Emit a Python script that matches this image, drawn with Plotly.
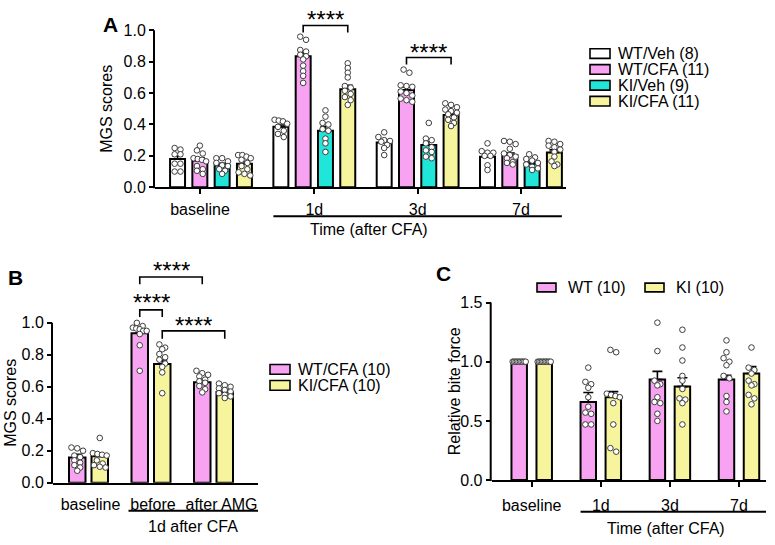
import plotly.graph_objects as go

W, H = 775, 545
FONT = "Arial, 'Liberation Sans', sans-serif"

# ---------------- Panel A data ----------------
A_groups = ["baseline", "1d", "3d", "7d"]
A_series = ["WT/Veh (8)", "WT/CFA (11)", "KI/Veh (9)", "KI/CFA (11)"]
A_colors = ["#FFFFFF", "#F7A3F2", "#1FE6D9", "#F6F59E"]
A_means = [
    [0.18, 0.385, 0.285, 0.195],
    [0.17, 0.835, 0.62, 0.205],
    [0.14, 0.36, 0.27, 0.15],
    [0.15, 0.625, 0.46, 0.222],
]
A_sem = [
    [0.018, 0.012, 0.013, 0.018],
    [0.017, 0.022, 0.020, 0.013],
    [0.012, 0.027, 0.022, 0.010],
    [0.014, 0.025, 0.014, 0.016],
]
A_dots = [
    [[0.25, 0.24, 0.21, 0.21, 0.15, 0.15, 0.10, 0.10],
     [0.43, 0.425, 0.42, 0.405, 0.385, 0.36, 0.34, 0.32],
     [0.35, 0.32, 0.30, 0.295, 0.29, 0.27, 0.25, 0.205],
     [0.28, 0.23, 0.22, 0.22, 0.20, 0.20, 0.14, 0.11]],
    [[0.265, 0.235, 0.215, 0.185, 0.18, 0.175, 0.165, 0.135, 0.115, 0.105, 0.085],
     [0.96, 0.94, 0.875, 0.865, 0.845, 0.835, 0.815, 0.775, 0.74, 0.71, 0.665],
     [0.75, 0.73, 0.65, 0.645, 0.64, 0.61, 0.60, 0.585, 0.565, 0.555, 0.545],
     [0.295, 0.29, 0.275, 0.245, 0.215, 0.205, 0.195, 0.185, 0.16, 0.155, 0.145]],
    [[0.185, 0.185, 0.165, 0.155, 0.14, 0.135, 0.115, 0.105, 0.085],
     [0.49, 0.45, 0.41, 0.40, 0.37, 0.36, 0.31, 0.28, 0.225],
     [0.41, 0.31, 0.30, 0.28, 0.255, 0.235, 0.225, 0.195, 0.185],
     [0.21, 0.19, 0.18, 0.17, 0.155, 0.145, 0.13, 0.12, 0.11]],
    [[0.205, 0.205, 0.195, 0.185, 0.175, 0.155, 0.135, 0.115, 0.095, 0.085, 0.075],
     [0.79, 0.76, 0.73, 0.70, 0.645, 0.635, 0.615, 0.595, 0.575, 0.555, 0.525],
     [0.535, 0.525, 0.51, 0.495, 0.485, 0.475, 0.465, 0.445, 0.43, 0.41, 0.39],
     [0.295, 0.29, 0.275, 0.265, 0.255, 0.24, 0.225, 0.195, 0.165, 0.145, 0.135]],
]
A_yticks = [0.0, 0.2, 0.4, 0.6, 0.8, 1.0]
A_ytitle = "MGS scores"
A_xtitle = "Time (after CFA)"
# comparisons: (group index, series a, series b)
A_comps = [(1, 1, 3), (2, 1, 3)]
A_comp_text = ["****", "****"]

# ---------------- Panel B data ----------------
B_groups = ["baseline", "before", "after AMG"]
B_series = ["WT/CFA (10)", "KI/CFA (10)"]
B_colors = ["#F7A3F2", "#F6F59E"]
B_means = [
    [0.158, 0.935, 0.628],
    [0.165, 0.743, 0.568],
]
B_sem = [
    [0.020, 0.024, 0.016],
    [0.013, 0.025, 0.012],
]
B_dots = [
    [[0.22, 0.215, 0.20, 0.17, 0.16, 0.14, 0.125, 0.11, 0.095, 0.075],
     [1.0, 0.98, 0.97, 0.965, 0.96, 0.95, 0.95, 0.93, 0.86, 0.70],
     [0.70, 0.685, 0.675, 0.665, 0.645, 0.635, 0.625, 0.605, 0.585, 0.565]],
    [[0.28, 0.185, 0.18, 0.175, 0.17, 0.14, 0.12, 0.11, 0.10, 0.095],
     [0.865, 0.845, 0.835, 0.805, 0.785, 0.77, 0.745, 0.725, 0.69, 0.56],
     [0.62, 0.61, 0.60, 0.59, 0.58, 0.57, 0.56, 0.55, 0.54, 0.53]],
]
B_yticks = [0.0, 0.2, 0.4, 0.6, 0.8, 1.0]
B_ytitle = "MGS scores"
B_xtitle = "1d after CFA"
# comparisons: ((group, series), (group, series))
B_comps = [((1, 0), (2, 0)), ((1, 0), (1, 1)), ((1, 1), (2, 1))]
B_comp_text = ["****", "****", "****"]

# ---------------- Panel C data ----------------
C_groups = ["baseline", "1d", "3d", "7d"]
C_series = ["WT (10)", "KI (10)"]
C_colors = ["#F7A3F2", "#F6F59E"]
C_means = [
    [1.0, 0.66, 0.85, 0.85],
    [1.0, 0.70, 0.79, 0.90],
]
C_sem = [
    [0.0, 0.080, 0.068, 0.035],
    [0.0, 0.047, 0.074, 0.060],
]
C_dots = [
    [[1.0, 1.0, 1.0, 1.0, 1.0, 1.0, 1.0, 1.0, 1.0, 1.0],
     [0.95, 0.83, 0.81, 0.78, 0.70, 0.62, 0.57, 0.56, 0.47, 0.47],
     [1.33, 1.09, 0.84, 0.81, 0.80, 0.70, 0.66, 0.65, 0.56, 0.50],
     [1.18, 1.08, 1.03, 1.00, 0.97, 0.88, 0.86, 0.71, 0.66, 0.58]],
    [[1.0, 1.0, 1.0, 1.0, 1.0, 1.0, 1.0, 1.0, 1.0, 1.0],
     [1.10, 1.08, 0.73, 0.72, 0.71, 0.70, 0.65, 0.47, 0.27, 0.24],
     [1.27, 1.12, 1.01, 0.88, 0.84, 0.77, 0.69, 0.68, 0.65, 0.47],
     [1.12, 0.95, 0.93, 0.90, 0.84, 0.81, 0.80, 0.72, 0.69, 0.64]],
]
C_yticks = [0.0, 0.5, 1.0, 1.5]
C_ytitle = "Relative bite force"
C_xtitle = "Time (after CFA)"

# ---------------- Layout geometry (pixels) ----------------
P = {
    "A": dict(ax="", x0=155, x1=566, ytop=15, ybot=185, xr=(-0.542, 3.436), yr=(0, 1.05),
              slot=0.2158, bw=0.145, label=(110, 17), tick_dx=[-11, 0, 0, 0], standoff=2),
    "B": dict(ax="2", x0=53, x1=258, ytop=275.5, ybot=490, xr=(-0.568, 2.712), yr=(0, 1.30),
              slot=0.36, bw=0.264, label=(15, 278), tick_dx=[2, 2, 8], standoff=1),
    "C": dict(ax="3", x0=491.7, x1=766, ytop=304, ybot=487.3, xr=(-0.579, 3.391), yr=(0, 1.5),
              slot=0.362, bw=0.224, label=(443, 274), tick_dx=[0, 0, 0, 0], standoff=5),
}
for p in P.values():
    p["ppux"] = (p["x1"] - p["x0"]) / (p["xr"][1] - p["xr"][0])
    p["ppuy"] = (p["ybot"] - p["ytop"]) / (p["yr"][1] - p["yr"][0])


def xpx(p, v):
    return p["x0"] + (v - p["xr"][0]) * p["ppux"]


def ypx(p, v):
    return p["ybot"] - (v - p["yr"][0]) * p["ppuy"]


def px2paper(x, y):
    return x / W, 1 - y / H


def bar_x(p, g, s, ns):
    return g + (s - (ns - 1) / 2) * p["slot"]


DOT_D = 5.8  # px


def swarm(vals, p, maxhalf):
    """Prism-like horizontal spreading of points with similar values (px -> data units)."""
    order = sorted(range(len(vals)), key=lambda i: -vals[i])
    clusters = []
    for i in order:
        y = vals[i] * p["ppuy"]
        if clusters and abs(clusters[-1][0] - y) < DOT_D * 0.75:
            clusters[-1][1].append(i)
        else:
            clusters.append([y, [i]])
    offs = [0.0] * len(vals)
    for _, idx in clusters:
        k = len(idx)
        step = DOT_D
        if k > 1 and (k - 1) / 2 * step > maxhalf:
            step = 2 * maxhalf / (k - 1)
        for j, i in enumerate(idx):
            offs[i] = (j - (k - 1) / 2) * step / p["ppux"]
    return offs


fig = go.Figure()
shapes = []
annotations = []
AXC = "black"


def add_panel(key, groups, series, colors, means, sems, dots):
    p = P[key]
    ns = len(series)
    xa, ya = "x" + p["ax"], "y" + p["ax"]
    for s in range(ns):
        xs = [bar_x(p, g, s, ns) for g in range(len(groups))]
        fig.add_trace(go.Bar(
            x=xs, y=means[s], width=p["bw"], xaxis=xa, yaxis=ya, name=series[s],
            marker=dict(color=colors[s], line=dict(color="black", width=2)),
            error_y=dict(type="data", array=sems[s], arrayminus=[0] * len(sems[s]),
                         symmetric=False, color="black", thickness=1.6, width=5),
            showlegend=False, hoverinfo="skip"))
    for s in range(ns):
        dx, dy = [], []
        for g in range(len(groups)):
            vals = dots[s][g]
            offs = swarm(vals, p, maxhalf=p["bw"] * p["ppux"] * 0.42)
            bx = bar_x(p, g, s, ns)
            dx += [bx + o for o in offs]
            dy += vals
        fig.add_trace(go.Scatter(
            x=dx, y=dy, xaxis=xa, yaxis=ya, mode="markers", cliponaxis=False,
            marker=dict(size=5.6, color="white", line=dict(color="#3d3d3d", width=1)),
            showlegend=False, hoverinfo="skip"))


add_panel("A", A_groups, A_series, A_colors, A_means, A_sem, A_dots)
add_panel("B", B_groups, B_series, B_colors, B_means, B_sem, B_dots)
add_panel("C", C_groups, C_series, C_colors, C_means, C_sem, C_dots)

FS = 16
TICKF = dict(family=FONT, size=FS, color="black")


def axis_layout(key, groups, yticks, xticks_visible):
    p = P[key]
    xd = [p["x0"] / W, p["x1"] / W]
    yd = [1 - p["ybot"] / H, 1 - p["ytop"] / H]
    tv = [g + d / p["ppux"] for g, d in zip(range(len(groups)), p["tick_dx"])]
    xax = dict(domain=xd, range=list(p["xr"]), tickmode="array",
               tickvals=tv, ticktext=groups,
               showline=True, linecolor=AXC, linewidth=2, ticks="outside", ticklen=5,
               tickwidth=2, tickcolor=AXC if xticks_visible else "rgba(0,0,0,0)",
               ticklabelstandoff=p["standoff"],
               showgrid=False, zeroline=False, tickfont=TICKF, fixedrange=True,
               anchor="y" + p["ax"])
    yax = dict(domain=yd, range=list(p["yr"]), tickmode="array", tickvals=yticks,
               ticktext=[f"{v:.1f}" for v in yticks],
               showline=False, ticks="outside", ticklen=5, tickwidth=2, tickcolor=AXC,
               showgrid=False, zeroline=False, tickfont=TICKF, fixedrange=True,
               anchor="x" + p["ax"])
    # y axis line stops at the top tick
    lx = p["x0"] - 1
    x0p, y0p = px2paper(lx, ypx(p, yticks[0]) + 1)
    _, y1p = px2paper(lx, ypx(p, yticks[-1]))
    shapes.append(dict(type="line", xref="paper", yref="paper", x0=x0p, x1=x0p,
                       y0=y0p, y1=y1p, line=dict(color=AXC, width=2)))
    return xax, yax


xA, yA = axis_layout("A", A_groups, A_yticks, True)
xB, yB = axis_layout("B", B_groups, B_yticks, False)
xC, yC = axis_layout("C", C_groups, C_yticks, True)


def text_px(x, y, text, size=FS, bold=False, angle=0, xanchor="center", yshift=0):
    xp, yp = px2paper(x, y)
    annotations.append(dict(x=xp, y=yp, xref="paper", yref="paper", text=f"<b>{text}</b>" if bold else text,
                            showarrow=False, xanchor=xanchor, yanchor="middle", textangle=angle,
                            yshift=yshift, font=dict(family=FONT, size=size, color="black")))


def line_px(x0, y0, x1, y1, width=2):
    a = px2paper(x0, y0)
    b = px2paper(x1, y1)
    shapes.append(dict(type="line", xref="paper", yref="paper", x0=a[0], y0=a[1], x1=b[0], y1=b[1],
                       line=dict(color="black", width=width)))


def rect_px(x0, y0, x1, y1, color):
    a = px2paper(x0, y0)
    b = px2paper(x1, y1)
    shapes.append(dict(type="rect", xref="paper", yref="paper", x0=a[0], y0=a[1], x1=b[0], y1=b[1],
                       fillcolor=color, line=dict(color="black", width=1.6)))


def bracket(key, xa_, xb_, yh, leg, ytext, text):
    p = P[key]
    x_ref, y_ref = "x" + p["ax"], "y" + p["ax"]
    path = f"M {xa_},{yh - leg} L {xa_},{yh} L {xb_},{yh} L {xb_},{yh - leg}"
    shapes.append(dict(type="path", path=path, xref=x_ref, yref=y_ref,
                       line=dict(color="black", width=1.6)))
    text_px(xpx(p, (xa_ + xb_) / 2), ypx(p, ytext), text, size=24, yshift=-6)


# ---- Panel A decorations
pA = P["A"]
text_px(*pA["label"], "A", size=21, bold=True)
text_px(107, ypx(pA, 0.5), A_ytitle, angle=-90)
ulA0 = xpx(pA, bar_x(pA, 1, 0, 4) - pA["bw"] / 2)
ulA1 = xpx(pA, bar_x(pA, 3, 3, 4) + pA["bw"] / 2)
line_px(ulA0, 215, ulA1, 215)
text_px(369, 229, A_xtitle)
A_br = [(1.031, 0.044, 1.105), (0.827, 0.044, 0.90)]
for (g, sa, sb), (yh, lg, yt), t in zip(A_comps, A_br, A_comp_text):
    bracket("A", bar_x(pA, g, sa, 4), bar_x(pA, g, sb, 4), yh, lg, yt, t)
for i, (name, col) in enumerate(zip(A_series, A_colors)):
    yc = 47 + 16.4 * i
    rect_px(590, yc - 5, 610, yc + 5, col)
    text_px(616, yc, name, xanchor="left")

# ---- Panel B decorations
pB = P["B"]
text_px(*pB["label"], "B", size=21, bold=True)
text_px(11, ypx(pB, 0.5), B_ytitle, angle=-90)
ulB0 = xpx(pB, bar_x(pB, 1, 0, 2) - pB["bw"] / 2) - 3
ulB1 = pB["x1"]
line_px(ulB0, 519, ulB1, 519)
text_px((ulB0 + ulB1) / 2, 535, B_xtitle)
B_br = [(1.287, 0.045, 1.364), (1.081, 0.045, 1.162), (0.95, 0.05, 1.02)]
for ((ga, sa), (gb, sb)), (yh, lg, yt), t in zip(B_comps, B_br, B_comp_text):
    bracket("B", bar_x(pB, ga, sa, 2), bar_x(pB, gb, sb, 2), yh, lg, yt, t)
for i, (name, col) in enumerate(zip(B_series, B_colors)):
    yc = 373 + 16.5 * i
    rect_px(270, yc - 5, 290, yc + 5, col)
    text_px(296, yc, name, xanchor="left")

# ---- Panel C decorations
pC = P["C"]
text_px(*pC["label"], "C", size=21, bold=True)
text_px(454, ypx(pC, 0.75), C_ytitle, angle=-90)
ulC0 = xpx(pC, bar_x(pC, 1, 0, 2) - pC["bw"] / 2)
ulC1 = pC["x1"]
line_px(ulC0, 520, ulC1, 520)
text_px(666, 537, C_xtitle)
for i, (name, col) in enumerate(zip(C_series, C_colors)):
    lx = 537 + 108 * i
    rect_px(lx, 284, lx + 19, 293, col)
    text_px(lx + 29, 288.5, name, xanchor="left")

fig.update_layout(
    width=W, height=H, autosize=False,
    margin=dict(l=0, r=0, t=0, b=0),
    paper_bgcolor="white", plot_bgcolor="white",
    barmode="overlay",
    xaxis=xA, yaxis=yA, xaxis2=xB, yaxis2=yB, xaxis3=xC, yaxis3=yC,
    shapes=shapes, annotations=annotations,
    font=dict(family=FONT, size=FS, color="black"),
    showlegend=False,
)

# pin the figure to the window's top-left corner so the page does not overflow
PIN = ("var gd=document.getElementById('{plot_id}');"
       "document.documentElement.style.margin='0';document.body.style.margin='0';"
       "document.body.style.overflow='hidden';"
       "gd.style.position='fixed';gd.style.left='0px';gd.style.top='0px';")
fig.write_html("out.html", post_script=PIN, config=dict(displayModeBar=False))
